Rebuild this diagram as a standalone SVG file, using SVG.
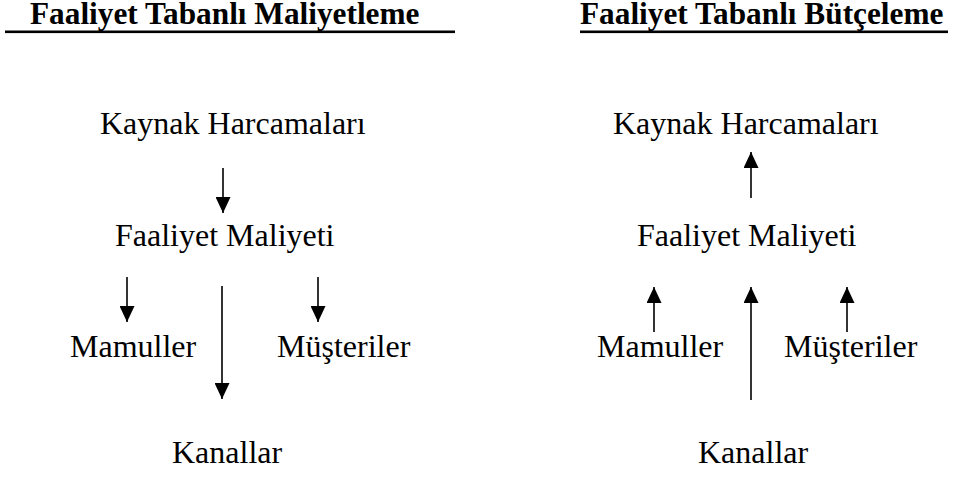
<svg xmlns="http://www.w3.org/2000/svg" width="957" height="477" viewBox="0 0 957 477">
  <style>
    .title { font-family: "Liberation Serif", "Times New Roman", serif; font-size: 31.3px; font-weight: bold; fill: #000; }
    .label { font-family: "Liberation Serif", "Times New Roman", serif; font-size: 32px; fill: #000; }
    .edge { stroke: #000; stroke-width: 1.6; fill: none; marker-end: url(#arrow); }
  </style>
  <defs>
    <marker id="arrow" viewBox="0 0 16 15" refX="16" refY="7.5" markerWidth="16" markerHeight="15" markerUnits="userSpaceOnUse" orient="auto">
      <path d="M0,0 L16,7.5 L0,15 Z" fill="#000"/>
    </marker>
  </defs>
  <rect width="957" height="477" fill="#fff"/>

  <!-- headings -->
  <g id="heading-costing">
    <text class="title" x="30" y="24">Faaliyet Tabanlı Maliyetleme</text>
    <rect x="5" y="30.5" width="450" height="2.6" fill="#000"/>
  </g>
  <g id="heading-budgeting">
    <text class="title" x="580" y="24">Faaliyet Tabanlı Bütçeleme</text>
    <rect x="580" y="30.5" width="368" height="2.6" fill="#000"/>
  </g>

  <!-- costing side: resources flow down -->
  <g id="l-kaynak"><text class="label" x="100" y="134">Kaynak Harcamaları</text></g>
  <g id="l-faaliyet"><text class="label" x="115" y="246">Faaliyet Maliyeti</text></g>
  <g id="l-mamuller"><text class="label" x="70" y="357">Mamuller</text></g>
  <g id="l-musteriler"><text class="label" x="277" y="357">Müşteriler</text></g>
  <g id="l-kanallar"><text class="label" x="172" y="463">Kanallar</text></g>

  <!-- budgeting side: demand flows up -->
  <g id="r-kaynak"><text class="label" x="613" y="134">Kaynak Harcamaları</text></g>
  <g id="r-faaliyet"><text class="label" x="637" y="246">Faaliyet Maliyeti</text></g>
  <g id="r-mamuller"><text class="label" x="597" y="357">Mamuller</text></g>
  <g id="r-musteriler"><text class="label" x="784" y="357">Müşteriler</text></g>
  <g id="r-kanallar"><text class="label" x="698" y="463">Kanallar</text></g>

  <g id="connectors">
    <line class="edge" x1="223" y1="168" x2="223" y2="213"/>
    <line class="edge" x1="127" y1="277" x2="127" y2="322"/>
    <line class="edge" x1="318" y1="277" x2="318" y2="322"/>
    <line class="edge" x1="222" y1="286" x2="222" y2="399"/>

    <line class="edge" x1="751" y1="198" x2="751" y2="152"/>
    <line class="edge" x1="654" y1="332" x2="654" y2="287"/>
    <line class="edge" x1="847" y1="332" x2="847" y2="287"/>
    <line class="edge" x1="751" y1="400" x2="751" y2="287"/>
  </g>
</svg>
